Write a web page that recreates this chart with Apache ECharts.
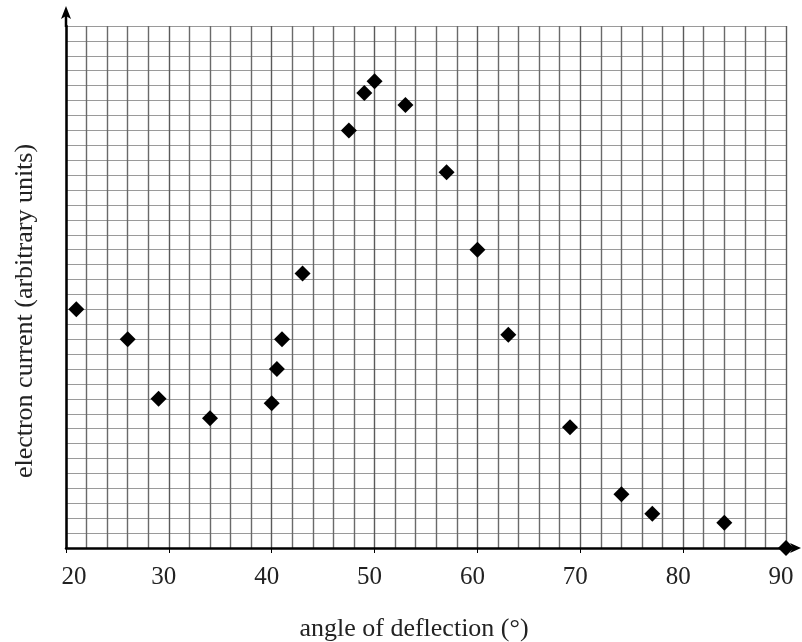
<!DOCTYPE html>
<html>
<head>
<meta charset="utf-8">
<script src="https://cdn.jsdelivr.net/npm/echarts@6/dist/echarts.min.js"></script>
<style>html,body{margin:0;padding:0;background:#fff;}#chart{width:802px;height:642px;}</style>
</head>
<body>
<div id="chart"></div>
<script>
// Data
const angles = [21, 26, 29, 34, 40, 40.5, 41, 43, 47.5, 49, 50, 53, 57, 60, 63, 69, 74, 77, 84, 90];
const currents = [16, 14, 10, 8.7, 9.7, 12, 14, 18.4, 28, 30.5, 31.3, 29.7, 25.2, 20, 14.3, 8.1, 3.6, 2.3, 1.7, 0];
const xTicks = [20, 30, 40, 50, 60, 70, 80, 90];
const xTitle = 'angle of deflection (°)';
const yTitle = 'electron current (arbitrary units)';

const points = angles.map((a, i) => [a, currents[i]]);
const FONT = "'Liberation Serif', 'DejaVu Serif', serif";

const chart = echarts.init(document.getElementById('chart'));
chart.setOption({
  animation: false,
  backgroundColor: '#fff',
  grid: { left: 66, right: 16, top: 26, bottom: 94, containLabel: false, outerBoundsMode: 'none' },
  xAxis: {
    type: 'value', min: xTicks[0], max: xTicks[xTicks.length - 1], interval: 10,
    name: xTitle, nameLocation: 'middle', nameGap: 68,
    nameTextStyle: { fontFamily: FONT, fontSize: 26, color: '#222', padding: [0, 24, 0, 0] },
    axisLine: { show: true, onZero: false, lineStyle: { color: '#000', width: 2.5 } },
    axisTick: { show: true, length: 5, lineStyle: { color: '#000', width: 1 } },
    axisLabel: {
      fontFamily: FONT, fontSize: 25, color: '#222', margin: 17, padding: [0, 10, 0, 0],
      formatter: v => (v === xTicks[0] ? '{a|' + v + '}' : String(v)),
      rich: { a: { fontFamily: FONT, fontSize: 25, color: '#222', padding: [0, 0, 0, 26] } }
    },
    splitLine: { show: true, lineStyle: { color: '#5a5a5a', width: 1.4 } },
    minorTick: { show: false, splitNumber: 5 },
    minorSplitLine: { show: true, lineStyle: { color: '#6a6a6a', width: 1.4 } }
  },
  yAxis: {
    type: 'value', min: 0, max: 35, interval: 1,
    name: yTitle, nameLocation: 'middle', nameGap: 28,
    nameTextStyle: { fontFamily: FONT, fontSize: 26, color: '#222', padding: [0, 48, 0, 0] },
    axisLine: { show: true, onZero: false, lineStyle: { color: '#000', width: 2.5 } },
    axisTick: { show: false },
    axisLabel: { show: false },
    splitLine: { show: true, lineStyle: { color: '#9a9a9a', width: 1.2 } }
  },
  graphic: [
    { type: 'line', shape: { x1: 786, y1: 548, x2: 794, y2: 548 }, style: { stroke: '#000', lineWidth: 2.5 }, z: 10 },
    { type: 'polygon', shape: { points: [[801, 548], [790, 543], [793, 548], [790, 553]] }, style: { fill: '#000' }, z: 10 },
    { type: 'line', shape: { x1: 66, y1: 27, x2: 66, y2: 16 }, style: { stroke: '#000', lineWidth: 2.5 }, z: 10 },
    { type: 'polygon', shape: { points: [[66, 6], [61, 19], [66, 16], [71, 19]] }, style: { fill: '#000' }, z: 10 }
  ],
  series: [{
    type: 'scatter',
    data: points,
    symbol: 'diamond',
    symbolSize: 16,
    clip: false,
    itemStyle: { color: '#000', opacity: 1 },
    z: 5
  }]
});
</script>
</body>
</html>
